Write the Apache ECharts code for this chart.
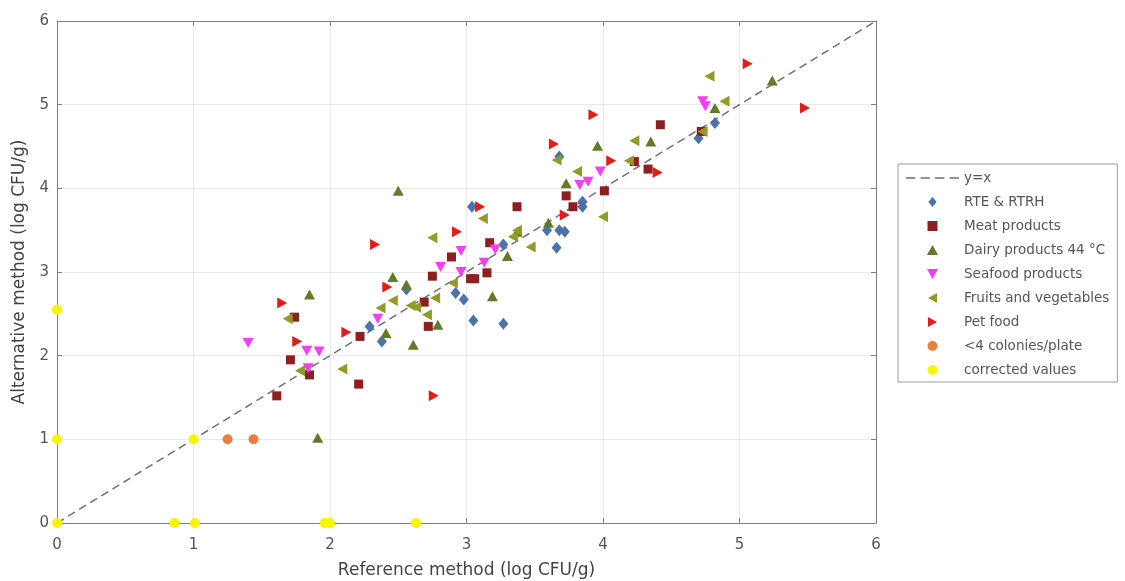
<!DOCTYPE html>
<html>
<head>
<meta charset="utf-8">
<script src="https://cdn.jsdelivr.net/npm/echarts/dist/echarts.min.js"></script>
<style>
  html, body { margin: 0; padding: 0; background: #ffffff; }
  #chart { width: 1125px; height: 581px; }
</style>
</head>
<body>
<div id="chart"></div>
<script>
// Reference vs alternative enumeration, log CFU/g, one list per matrix
const seriesNames = [
  'y=x',
  'RTE & RTRH',
  'Meat products',
  'Dairy products 44 °C',
  'Seafood products',
  'Fruits and vegetables',
  'Pet food',
  '<4 colonies/plate',
  'corrected values'
];

const identityLine = [[0, 0], [6, 6]];

const rteRtrh = [
  [2.29, 2.35], [2.38, 2.17], [2.56, 2.79], [2.92, 2.75], [2.98, 2.67],
  [3.05, 2.42], [3.27, 2.38], [3.04, 3.78], [3.27, 3.33], [3.59, 3.50],
  [3.68, 3.50], [3.72, 3.48], [3.66, 3.29], [3.68, 4.38], [3.85, 3.84],
  [3.85, 3.78], [4.70, 4.60], [4.82, 4.78]
];

const meatProducts = [
  [1.61, 1.52], [1.71, 1.95], [1.74, 2.46], [1.85, 1.77], [2.21, 1.66],
  [2.22, 2.23], [2.69, 2.64], [2.72, 2.35], [2.75, 2.95], [2.89, 3.18],
  [3.03, 2.92], [3.06, 2.92], [3.15, 2.99], [3.17, 3.35], [3.37, 3.78],
  [3.73, 3.91], [3.78, 3.78], [4.01, 3.97], [4.23, 4.32], [4.33, 4.23],
  [4.42, 4.76], [4.72, 4.68]
];

const dairyProducts = [
  [1.91, 1.02], [1.85, 2.73], [2.41, 2.27], [2.46, 2.94], [2.56, 2.85],
  [2.61, 2.13], [2.79, 2.37], [2.50, 3.97], [3.19, 2.71], [3.37, 3.48],
  [3.30, 3.19], [3.60, 3.59], [3.73, 4.06], [3.96, 4.51], [4.35, 4.56],
  [4.82, 4.96], [5.24, 5.29]
];

const seafoodProducts = [
  [1.40, 2.15], [1.83, 2.06], [1.92, 2.05], [1.84, 1.85], [2.35, 2.44],
  [2.81, 3.06], [2.96, 3.00], [2.96, 3.25], [3.13, 3.11], [3.21, 3.27],
  [3.83, 4.04], [3.89, 4.08], [3.98, 4.20], [4.73, 5.04], [4.75, 4.98]
];

const fruitsVegetables = [
  [1.69, 2.44], [1.78, 1.82], [2.09, 1.84], [2.37, 2.57], [2.46, 2.66],
  [2.59, 2.60], [2.63, 2.58], [2.77, 2.69], [2.71, 2.49], [2.90, 2.87],
  [2.75, 3.41], [3.12, 3.64], [3.34, 3.42], [3.47, 3.30], [3.37, 3.50],
  [3.66, 4.34], [3.81, 4.20], [4.00, 3.66], [4.19, 4.33], [4.23, 4.57],
  [4.78, 5.34], [4.89, 5.04], [4.73, 4.68]
];

const petFood = [
  [1.65, 2.63], [1.76, 2.17], [2.12, 2.28], [2.33, 3.33], [2.42, 2.82],
  [2.76, 1.52], [2.93, 3.48], [3.10, 3.78], [3.64, 4.53], [3.72, 3.68],
  [3.93, 4.88], [4.06, 4.33], [4.40, 4.19], [5.06, 5.49], [5.48, 4.96]
];

const fewColonies = [[1.25, 1.00], [1.44, 1.00]];

const correctedValues = [
  [0, 0], [0, 1], [0, 2.55], [1, 1], [0.86, 0], [1.01, 0],
  [1.96, 0], [2.00, 0], [2.63, 0]
];

const axisMin = 0;
const axisMax = 6;
const axisStep = 1;

const FONT = 'DejaVu Sans';
const AXIS_GREY = '#7f7f7f';

// Legend glyphs, pre-oriented so they need no rotation inside the legend box
const ICONS = {
  dashed: 'path://M0,0h9v1.6h-9z M14,0h9v1.6h-9z M28,0h9v1.6h-9z M42,0h9v1.6h-9z',
  diamond: 'path://M5,0L10,6L5,12L0,6Z',
  square: 'path://M0,0h10v10h-10z',
  up: 'path://M5,0L10,9L0,9Z',
  down: 'path://M0,0L10,0L5,9Z',
  left: 'path://M0,5L9,0L9,10Z',
  right: 'path://M9,5L0,0L0,10Z',
  dot: 'path://M5,0A5,5,0,1,1,4.99,0Z'
};

function frameAxis(position, showLabels, extra) {
  return Object.assign({
    type: 'value',
    min: axisMin,
    max: axisMax,
    interval: axisStep,
    position: position,
    axisLine: { show: true, onZero: false, lineStyle: { color: AXIS_GREY, width: 1 } },
    axisTick: { show: true, inside: true, length: 5, lineStyle: { color: AXIS_GREY } },
    axisLabel: { show: showLabels, color: '#555', fontSize: 15, fontFamily: FONT },
    splitLine: { show: showLabels, lineStyle: { color: '#e9e9e9', width: 1 } }
  }, extra || {});
}

function scatter(name, data, symbol, size, color, rotate) {
  return {
    name: name,
    type: 'scatter',
    data: data,
    symbol: symbol,
    symbolSize: size,
    symbolRotate: rotate || 0,
    itemStyle: { color: color, opacity: 1 },
    z: 3
  };
}

const legendIcons = ['dashed', 'diamond', 'square', 'up', 'down', 'left', 'right', 'dot', 'dot'];

const chart = echarts.init(document.getElementById('chart'), null, { renderer: 'canvas' });

chart.setOption({
  animation: false,
  backgroundColor: '#ffffff',
  grid: { left: 57, right: 249, top: 21, bottom: 58, containLabel: false, outerBoundsMode: 'none' },
  xAxis: [
    frameAxis('bottom', true, {
      name: 'Reference method (log CFU/g)',
      nameLocation: 'middle',
      nameGap: 39,
      nameTextStyle: { color: '#444', fontSize: 17, fontFamily: FONT },
      axisLabel: { show: true, color: '#555', fontSize: 15, fontFamily: FONT, margin: 15 }
    }),
    frameAxis('top', false)
  ],
  yAxis: [
    frameAxis('left', true, {
      name: 'Alternative method (log CFU/g)',
      nameLocation: 'middle',
      nameGap: 28,
      nameTextStyle: { color: '#444', fontSize: 17, fontFamily: FONT },
      axisLabel: { show: true, color: '#555', fontSize: 15, fontFamily: FONT, margin: 8 }
    }),
    frameAxis('right', false)
  ],
  legend: {
    orient: 'vertical',
    left: 898,
    top: 164,
    padding: [7, 8, 5, 8],
    itemGap: 10,
    itemWidth: 53,
    itemHeight: 10,
    symbolKeepAspect: true,
    backgroundColor: '#ffffff',
    borderColor: '#9a9a9a',
    borderWidth: 1,
    textStyle: { color: '#555', fontSize: 13.5, fontFamily: FONT, lineHeight: 14 },
    data: seriesNames.map(function (name, i) {
      return { name: name, icon: ICONS[legendIcons[i]] };
    })
  },
  series: [
    {
      name: seriesNames[0],
      type: 'line',
      data: identityLine,
      symbol: 'none',
      showSymbol: false,
      lineStyle: { color: '#707070', width: 1.5, type: [8, 5] },
      itemStyle: { color: '#707070' },
      z: 2
    },
    scatter(seriesNames[1], rteRtrh, 'diamond', [10, 12], '#4c72ac'),
    scatter(seriesNames[2], meatProducts, 'rect', 9, '#8c1f1f'),
    scatter(seriesNames[3], dairyProducts, 'triangle', [11, 10], '#637a29'),
    scatter(seriesNames[4], seafoodProducts, 'triangle', [11, 10], '#f23ff2', 180),
    scatter(seriesNames[5], fruitsVegetables, 'triangle', [11, 10], '#939a25', 90),
    scatter(seriesNames[6], petFood, 'triangle', [11, 10], '#e31b1b', -90),
    scatter(seriesNames[7], fewColonies, 'circle', 10, '#e5803d'),
    scatter(seriesNames[8], correctedValues, 'circle', 10, '#f6f600')
  ]
});
</script>
</body>
</html>
